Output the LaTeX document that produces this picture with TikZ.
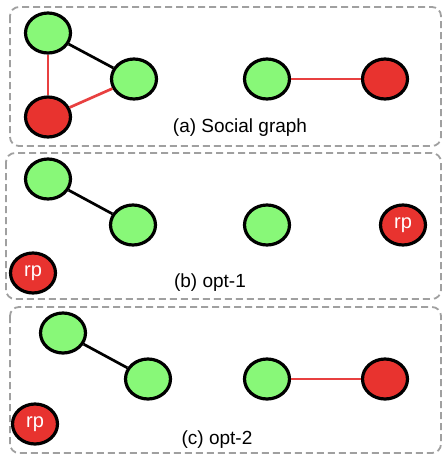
\documentclass[tikz,border=0pt]{standalone}
\usepackage{fontspec}
\setmainfont{Liberation Sans}
\usetikzlibrary{shapes.geometric}
\definecolor{ngreen}{HTML}{88F878}
\definecolor{nred}{HTML}{E8332F}
\definecolor{ered}{HTML}{E84040}
\definecolor{boxgray}{HTML}{A0A0A0}
\begin{document}
\begin{tikzpicture}[x=1pt,y=-1pt,
  gnode/.style={ellipse,draw=black,line width=3.2pt,fill=ngreen,minimum width=45pt,minimum height=40pt,inner sep=0pt},
  rnode/.style={ellipse,draw=black,line width=3.2pt,fill=nred,minimum width=45pt,minimum height=40pt,inner sep=0pt,text=white,font=\fontsize{20}{20}\selectfont},
  frame/.style={draw=boxgray,line width=1.8pt,dash pattern=on 7pt off 4pt,rounded corners=9pt},
  blk/.style={line width=2.7pt,draw=black},
  rdl/.style={line width=2.7pt,draw=ered},
  lab/.style={font=\fontsize{19}{20}\selectfont,inner sep=0pt}]
\useasboundingbox (0,0) rectangle (442,456);
\draw[frame] (10,7) rectangle (441,146);
\draw[frame] (6,153) rectangle (441,299);
\draw[frame] (10,307) rectangle (441,453);
% (a)
\node[gnode] (a1) at (48,33) {};
\node[gnode] (a2) at (134,79) {};
\node[rnode] (a3) at (48,117) {};
\node[gnode] (a4) at (267,79) {};
\node[rnode] (a5) at (385,79) {};
\draw[blk] (a1) -- (a2);
\draw[rdl] (a1) -- (a3);
\draw[rdl] (a3) -- (a2);
\draw[rdl] (a4) -- (a5);
\node[lab] (la) at (240,128) {(a) Social graph};
% (b)
\node[gnode] (b1) at (48,179) {};
\node[gnode] (b2) at (133,225) {};
\node[gnode] (b3) at (267,225) {};
\node[rnode] (b4) at (403,225) {rp};
\node[rnode] (b5) at (33,273) {rp};
\draw[blk] (b1) -- (b2);
\node[lab] (lb) at (210,283) {(b) opt-1};
% (c)
\node[gnode] (c1) at (63,333) {};
\node[gnode] (c2) at (148,379) {};
\node[gnode] (c3) at (267,379) {};
\node[rnode] (c4) at (385,379) {};
\node[rnode] (c5) at (35,424) {rp};
\draw[blk] (c1) -- (c2);
\draw[rdl] (c3) -- (c4);
\node[lab] (lc) at (217,440) {(c) opt-2};
\end{tikzpicture}
\end{document}
